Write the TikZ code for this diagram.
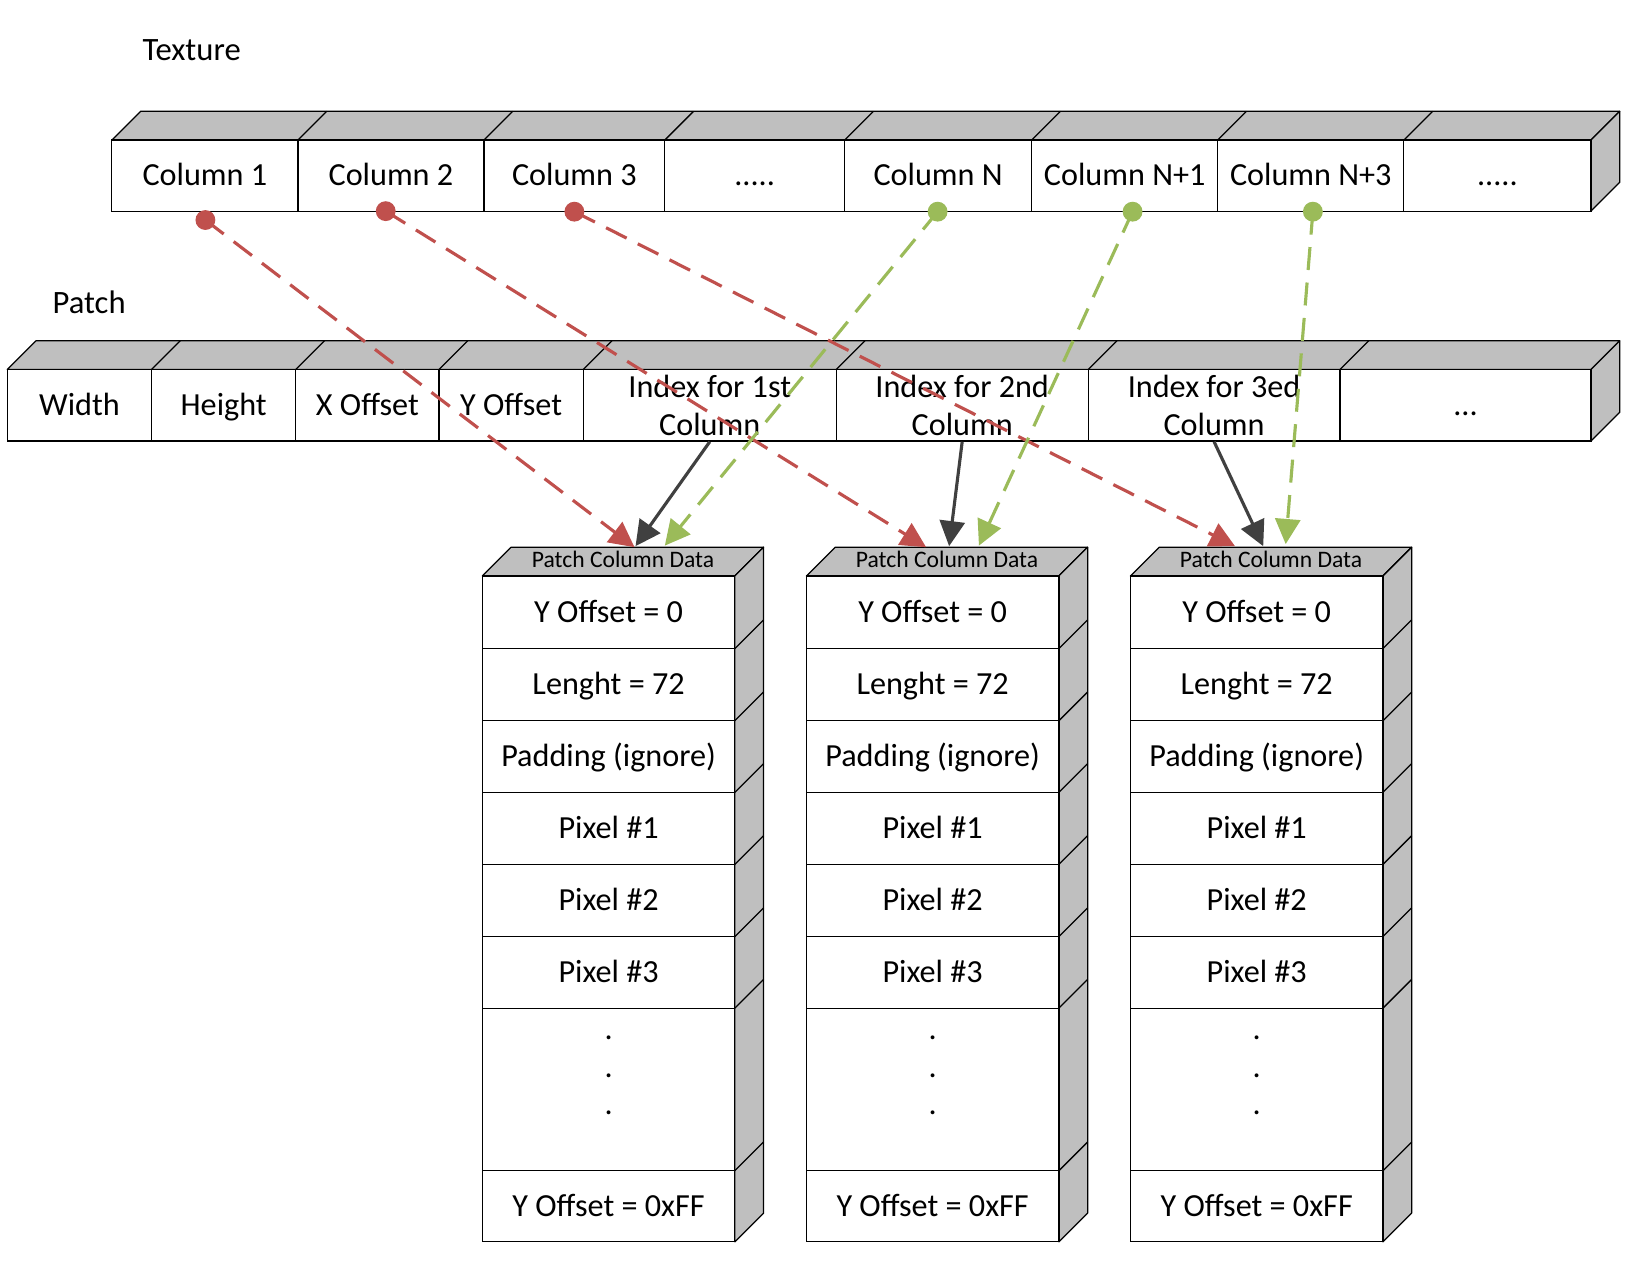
\documentclass[tikz,border=0pt]{standalone}
\usepackage{fontspec}
\setmainfont{Carlito}
\usetikzlibrary{arrows.meta}
\definecolor{cred}{HTML}{C0504D}
\definecolor{cgreen}{HTML}{9BBB59}
\definecolor{cdark}{HTML}{404040}
\definecolor{cface}{HTML}{BFBFBF}
% name, x1, y1, x2, y2, text  (single line)
\newcommand\cellat[6]{%
  \pgfmathsetmacro\cellw{(#4-#2)*0.5}%
  \pgfmathsetmacro\cellh{(#5-#3)*0.5}%
  \node[cellstyle, oneline, minimum width=\cellw pt, minimum height=\cellh pt] (#1) at ({(#2+#4)/2},{(#3+#5)/2}) {#6};}
% name, x1, y1, x2, y2, text  (several lines)
\newcommand\cellatm[6]{%
  \pgfmathsetmacro\cellw{(#4-#2)*0.5}%
  \pgfmathsetmacro\cellh{(#5-#3)*0.5}%
  \node[cellstyle, minimum width=\cellw pt, minimum height=\cellh pt] (#1) at ({(#2+#4)/2},{(#3+#5)/2}) {#6};}
\begin{document}
\begin{tikzpicture}[x=0.5pt,y=-0.5pt,
  cellstyle/.style={draw=black, line width=0.6pt, fill=white, inner sep=0pt, font=\fontsize{15.4}{18}\selectfont, align=center},
  oneline/.style={text height=12.3pt, text depth=2.5pt},
  face/.style={draw=black, line width=0.6pt, fill=cface, line join=round},
  edge3d/.style={draw=black, line width=0.6pt},
  lbl/.style={font=\fontsize{15.6}{18}\selectfont, inner sep=0pt, anchor=west},
  hdr/.style={font=\fontsize{11.3}{13}\selectfont, inner sep=0pt},
  dotsty/.style={font=\fontsize{15.4}{18}\selectfont, inner sep=0pt, align=center},
  conn/.style={line width=1.5pt, -{Triangle[length=12pt,width=12pt]}},
  reddash/.style={conn, cred, dash pattern=on 11pt off 6pt},
  greendash/.style={conn, cgreen, dash pattern=on 11pt off 6pt},
  darkarrow/.style={conn, cdark},
  dotmark/.style={circle, inner sep=0pt, minimum size=9.5pt}
]
\useasboundingbox (0,0) rectangle (1568,1210);

% ---------- labels ----------
\node[lbl] (texlbl) at (136,48) {Texture};
\node[lbl] (patlbl) at (50,289) {Patch};

% ---------- Texture row ----------
\path[face] (107,134) -- (134.5,106.5) -- (1549.5,106.5) -- (1522,134) -- cycle;
\path[face] (1522,134) -- (1549.5,106.5) -- (1549.5,174.5) -- (1522,202) -- cycle;
\foreach \xx in {285,463,636,808,987,1165,1343}
  \draw[edge3d] (\xx,134) -- (\xx+27.5,106.5);
\cellat{tc1}{107}{134}{285}{202}{Column 1}
\cellat{tc2}{285}{134}{463}{202}{Column 2}
\cellat{tc3}{463}{134}{636}{202}{Column 3}
\cellat{tc4}{636}{134}{808}{202}{.....}
\cellat{tc5}{808}{134}{987}{202}{Column N}
\cellat{tc6}{987}{134}{1165}{202}{Column N+1}
\cellat{tc7}{1165}{134}{1343}{202}{Column N+3}
\cellat{tc8}{1343}{134}{1522}{202}{.....}

% ---------- Patch row ----------
\path[face] (7,353.5) -- (34.5,326) -- (1549.5,326) -- (1522,353.5) -- cycle;
\path[face] (1522,353.5) -- (1549.5,326) -- (1549.5,394.5) -- (1522,422) -- cycle;
\foreach \xx in {145,283,420,558,800,1041,1282}
  \draw[edge3d] (\xx,353.5) -- (\xx+27.5,326);
\cellat{pc1}{7}{353.5}{145}{422}{Width}
\cellat{pc2}{145}{353.5}{283}{422}{Height}
\cellat{pc3}{283}{353.5}{420}{422}{X Offset}
\cellat{pc4}{420}{353.5}{558}{422}{Y Offset}
\cellatm{pc5}{558}{353.5}{800}{422}{Index for 1st\\Column}
\cellatm{pc6}{800}{353.5}{1041}{422}{Index for 2nd\\Column}
\cellatm{pc7}{1041}{353.5}{1282}{422}{Index for 3ed\\Column}
\cellat{pc8}{1282}{353.5}{1522}{422}{...}

% ---------- Patch Column Data boxes ----------
\foreach \bx/\bn in {461.5/1,771.5/2,1081.5/3}{
  \pgfmathsetmacro\bxr{\bx+241.5}
  \path[face] (\bx,551) -- (\bx+27.5,523.5) -- (\bxr+27.5,523.5) -- (\bxr,551) -- cycle;
  \path[face] (\bxr,551) -- (\bxr+27.5,523.5) -- (\bxr+27.5,1160.5) -- (\bxr,1188) -- cycle;
  \foreach \yy in {620.5,689.5,758,827,896,964.5,1120}
    \draw[edge3d] (\bxr,\yy) -- (\bxr+27.5,\yy-27.5);
  \node[hdr] (h\bn) at ({\bx+134.5},535.5) {Patch Column Data};
  \cellat{b\bn r1}{\bx}{551}{\bxr}{620.5}{Y Offset = 0}
  \cellat{b\bn r2}{\bx}{620.5}{\bxr}{689.5}{Lenght = 72}
  \cellat{b\bn r3}{\bx}{689.5}{\bxr}{758}{Padding (ignore)}
  \cellat{b\bn r4}{\bx}{758}{\bxr}{827}{Pixel \#1}
  \cellat{b\bn r5}{\bx}{827}{\bxr}{896}{Pixel \#2}
  \cellat{b\bn r6}{\bx}{896}{\bxr}{964.5}{Pixel \#3}
  \cellat{b\bn r7}{\bx}{964.5}{\bxr}{1120}{}
  \cellat{b\bn r8}{\bx}{1120}{\bxr}{1188}{Y Offset = 0xFF}
  \node[dotsty] (dd\bn) at ({\bx+120.75},1029) {.\\.\\.};
}

% ---------- connector end points ----------
\coordinate (sr1) at (196.5,210.5);
\coordinate (sr2) at (369,202);
\coordinate (sr3) at (549.5,202.5);
\coordinate (sg1) at (897,202.5);
\coordinate (sg2) at (1083.5,202.5);
\coordinate (sg3) at (1256,202.5);
\coordinate (tr1) at (607,523.5);
\coordinate (tk1) at (608,522.5);
\coordinate (tg1) at (636,522);
\coordinate (tr2) at (886,523.5);
\coordinate (tk2) at (908,522.5);
\coordinate (tg2) at (936.5,522);
\coordinate (tr3) at (1181.5,522.5);
\coordinate (tk3) at (1208.5,522.5);
\coordinate (tg3) at (1230,520.5);

% ---------- connectors ----------
\draw[reddash] (sr1) -- (tr1);
\draw[reddash] (sr2) -- (tr2);
\draw[reddash] (sr3) -- (tr3);
\draw[greendash] (sg1) -- (tg1);
\draw[greendash] (sg2) -- (tg2);
\draw[greendash] (sg3) -- (tg3);
\draw[darkarrow] (pc5.south) -- (tk1);
\draw[darkarrow] (pc6.south) -- (tk2);
\draw[darkarrow] (pc7.south) -- (tk3);

% ---------- dots ----------
\node[dotmark, fill=cred] (dr1) at (sr1) {};
\node[dotmark, fill=cred] (dr2) at (sr2) {};
\node[dotmark, fill=cred] (dr3) at (sr3) {};
\node[dotmark, fill=cgreen] (dg1) at (sg1) {};
\node[dotmark, fill=cgreen] (dg2) at (sg2) {};
\node[dotmark, fill=cgreen] (dg3) at (sg3) {};
\end{tikzpicture}
\end{document}
